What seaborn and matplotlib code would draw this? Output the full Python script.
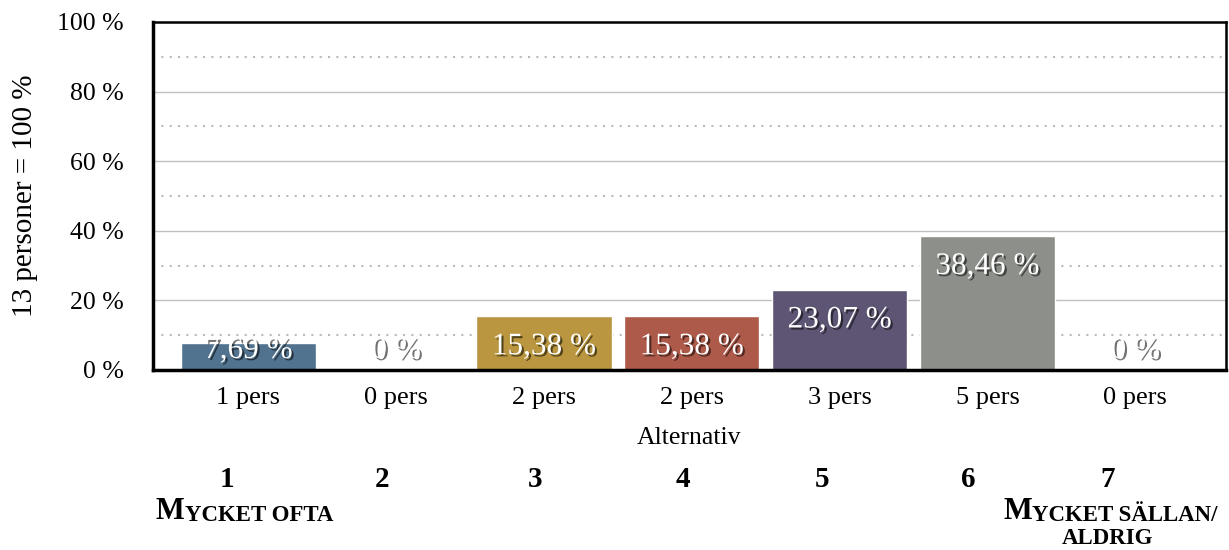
import numpy as np
import matplotlib.pyplot as plt
import matplotlib.patheffects as pe
import seaborn as sns
import pandas as pd

# survey answers, 13 persons = 100 %
alternativ = ["1", "2", "3", "4", "5", "6", "7"]
antal = [1, 0, 2, 2, 3, 5, 0]
procent = [7.69, 0.0, 15.38, 15.38, 23.07, 38.46, 0.0]
tick_labels = ["1 pers", "0 pers", "2 pers", "2 pers", "3 pers", "5 pers", "0 pers"]
value_labels = ["7,69 %", "0 %", "15,38 %", "15,38 %", "23,07 %", "38,46 %", "0 %"]
farger = ["#52738F", "#FFFFFF", "#B9963F", "#AD5A4A", "#5E5574", "#8D908A", "#FFFFFF"]

df = pd.DataFrame({"alt": alternativ, "pct": procent})

sns.set_style("white")
plt.rcParams['font.family'] = ['Liberation Serif', 'DejaVu Serif']
for k in ["text.color", "axes.labelcolor", "xtick.color", "ytick.color"]:
    plt.rcParams[k] = "black"

fig = plt.figure(figsize=(12.29, 5.5), dpi=100)
ax = fig.add_axes([0.1245, 0.3273, 0.8727, 0.6327])

sns.barplot(data=df, x="alt", y="pct", hue="alt", palette=farger,
            legend=False, width=0.914, saturation=1, ax=ax)

ax.set_ylim(0, 100)
ax.set_xlim(-0.645, 6.61)
ax.set_yticks(range(0, 101, 20))
ax.set_yticklabels([f"{t} %" for t in range(0, 101, 20)], fontsize=18.5)
ax.set_xticks(range(len(tick_labels)))
ax.set_xticklabels(tick_labels, fontsize=19)
ax.tick_params(axis="y", length=0, pad=21)
ax.tick_params(axis="x", length=0, pad=12)
ax.set_ylabel("13 personer = 100 %", fontsize=21, labelpad=14)
ax.set_xlabel("Alternativ", fontsize=18.5, labelpad=13)

# grid: solid at 20-steps, dotted in between
for y in range(20, 100, 20):
    ax.axhline(y, color="#C0C0C0", lw=1, zorder=0)
for y in range(10, 100, 20):
    ax.axhline(y, color="#BBBBBB", lw=1.5, ls=(0, (1, 3)), zorder=0)

for s in ax.spines.values():
    s.set_color("black")
    s.set_linewidth(1.8)
ax.spines["left"].set_linewidth(2.5)
ax.spines["bottom"].set_linewidth(2.5)

skugga = [pe.SimplePatchShadow(offset=(1.5, -1.5), shadow_rgbFace="black", alpha=0.55),
          pe.Normal()]
for i, (v, lab) in enumerate(zip(procent, value_labels)):
    ypos = max(v - 8.7, 5.6)
    ax.text(i, ypos, lab, ha="center", va="center", fontsize=22.5, color="white",
            path_effects=skugga, zorder=5)

# scale under the chart
nummer_x = [227, 382, 535, 683, 822, 968, 1108]
for n, x in zip(alternativ, nummer_x):
    fig.text(x / 1229, 1 - 487 / 550, n, ha="center", va="baseline",
             fontsize=21, fontweight="bold")

def kapitaler(x, y, stor, rest):
    t1 = fig.text(x, y, stor, ha="left", va="baseline", fontsize=22, fontweight="bold")
    ax.annotate(rest, xy=(1, 0), xycoords=t1, ha="left", va="bottom",
                fontsize=16.5, fontweight="bold")
    return t1

kapitaler(156 / 1229, 1 - 519 / 550, "M", "YCKET OFTA")
kapitaler(1003 / 1229, 1 - 519 / 550, "M", "YCKET SÄLLAN/")
fig.text(1108 / 1229, 1 - 544 / 550, "ALDRIG", ha="center", va="baseline",
         fontsize=16.5, fontweight="bold")

fig.savefig("out.png", dpi=100)
